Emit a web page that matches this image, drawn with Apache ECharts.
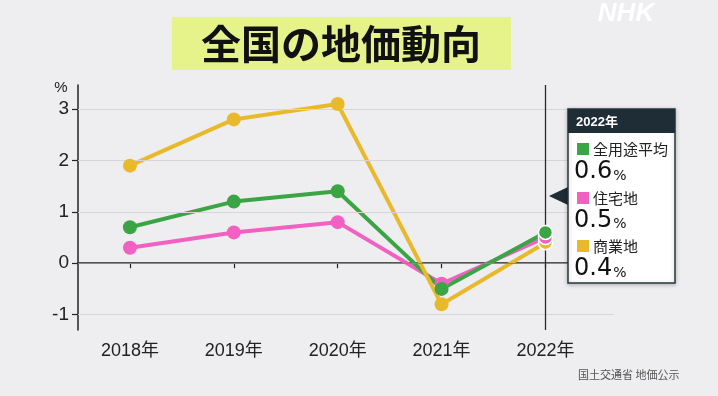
<!DOCTYPE html>
<html>
<head>
<meta charset="utf-8">
<script src="https://cdn.jsdelivr.net/npm/echarts@6/dist/echarts.min.js"></script>
<style>
html,body{margin:0;padding:0;background:#eeeef0;}
#chart{width:718px;height:396px;}
</style>
</head>
<body>
<div id="chart"></div>
<script>
// ---- data ----
const titleText = '全国の地価動向';
const years = [2018, 2019, 2020, 2021, 2022];
const yearLabelSuffix = '年';
const seriesNames = ['全用途平均', '住宅地', '商業地'];
const allUse = [0.7, 1.2, 1.4, -0.5, 0.6];
const residential = [0.3, 0.6, 0.8, -0.4, 0.5];
const commercial = [1.9, 2.8, 3.1, -0.8, 0.4];
const yTicks = [-1, 0, 1, 2, 3];
const yUnit = '%';
const highlightYear = 2022;
const sourceText = '国土交通省 地価公示';
const logoText = 'NHK';

// ---- styles ----
const colors = { green: '#3ba444', pink: '#f061c1', yellow: '#e9b92c' };
const font = '"Liberation Sans", "Noto Sans CJK JP", sans-serif';
const numFont = '"DejaVu Sans", sans-serif';
const cjkFont = '"Noto Sans CJK JP", sans-serif';

const chart = echarts.init(document.getElementById('chart'), null, { renderer: 'canvas' });

const toPairs = vals => years.map((y, i) => [y, vals[i]]);
const lastIdx = years.indexOf(highlightYear);
const markerData = vals => years.map((y, i) => {
  const d = { value: [y, vals[i]] };
  if (i === lastIdx) d.itemStyle = { borderColor: '#ffffff', borderWidth: 1.5 };
  return d;
});

const lineSeries = (name, vals, color, extra) => Object.assign({
  type: 'line', name: name, data: toPairs(vals), symbol: 'none',
  lineStyle: { color: color, width: 4 }, z: 2, silent: true
}, extra || {});
const dotSeries = (name, vals, color) => ({
  type: 'scatter', name: name, data: markerData(vals), symbolSize: 14,
  itemStyle: { color: color, opacity: 1 }, z: 5, silent: true
});

// tooltip-like box content
const boxX = 568, boxY = 109, boxW = 107, boxH = 174;
const entries = [
  { name: seriesNames[0], val: allUse[lastIdx], color: colors.green, sq: 143, lab: 149, num: 172 },
  { name: seriesNames[1], val: residential[lastIdx], color: colors.pink, sq: 192, lab: 198, num: 220.5 },
  { name: seriesNames[2], val: commercial[lastIdx], color: colors.yellow, sq: 240, lab: 246, num: 269 }
];
const boxGraphics = [
  { type: 'polygon', shape: { points: [[boxX, 187], [549, 196], [boxX, 205]] }, style: { fill: '#1f2d36' }, z: 20 },
  { type: 'rect', shape: { x: boxX, y: boxY, width: boxW, height: boxH }, style: { fill: '#ffffff', stroke: '#2a363d', lineWidth: 1.5, shadowBlur: 4, shadowColor: 'rgba(0,0,0,0.25)', shadowOffsetY: 1 }, z: 20 },
  { type: 'rect', shape: { x: boxX, y: boxY, width: boxW, height: 24 }, style: { fill: '#1f2d36' }, z: 21 },
  { type: 'text', x: 576, y: 122, style: { text: highlightYear + yearLabelSuffix, fill: '#ffffff', font: 'bold 13px ' + font, verticalAlign: 'middle' }, z: 22 }
];
entries.forEach(e => {
  boxGraphics.push({ type: 'rect', shape: { x: 577, y: e.sq, width: 12, height: 12 }, style: { fill: e.color }, z: 22 });
  boxGraphics.push({ type: 'text', x: 593, y: e.lab, style: { text: e.name, fill: '#222', font: '15px ' + cjkFont, verticalAlign: 'middle' }, z: 22 });
  boxGraphics.push({ type: 'text', x: 574, y: e.num, style: {
    text: '{n|' + e.val.toFixed(1) + '}{u|' + yUnit + '}',
    rich: { n: { font: '24px ' + numFont, fill: '#111', verticalAlign: 'bottom' }, u: { font: '14px ' + numFont, fill: '#111', verticalAlign: 'bottom', padding: [0, 0, 1, 1] } },
    verticalAlign: 'middle'
  }, z: 22 });
});

const option = {
  backgroundColor: '#eeeef0',
  animation: false,
  grid: { left: 78, right: 104, top: 85, bottom: 66, containLabel: false },
  xAxis: {
    type: 'value', min: 2017.5, max: 2022.66,
    axisLine: { show: true, lineStyle: { color: '#222', width: 1.5 } },
    axisTick: { show: true, length: 5, customValues: years, lineStyle: { color: '#222', width: 1.2 } },
    axisLabel: { customValues: years, formatter: v => v + yearLabelSuffix, margin: 12, color: '#222', fontSize: 18, fontFamily: font },
    splitLine: { show: false }
  },
  yAxis: {
    type: 'value', min: -1.3, max: 3.47,
    axisLine: { show: true, lineStyle: { color: '#222', width: 1.5 } },
    axisTick: { show: true, length: 6, customValues: yTicks, lineStyle: { color: '#222', width: 1.2 } },
    axisLabel: { customValues: yTicks, margin: 9, color: '#222', fontSize: 19, fontFamily: font },
    splitLine: { show: false }
  },
  series: [
    lineSeries(seriesNames[1], residential, colors.pink, {
      markLine: {
        silent: true, symbol: 'none', label: { show: false },
        data: yTicks.map(v => ({ yAxis: v, lineStyle: { color: v === 0 ? '#8a8a8e' : '#d6d6da', width: 1.2, type: 'solid' } }))
      },
      z: 1
    }),
    lineSeries(seriesNames[0], allUse, colors.green),
    lineSeries(seriesNames[2], commercial, colors.yellow, {
      markLine: {
        silent: true, symbol: 'none', label: { show: false },
        data: [{ xAxis: highlightYear, lineStyle: { color: '#2a2a2a', width: 1.3, type: 'solid' } }]
      }
    }),
    dotSeries(seriesNames[2], commercial, colors.yellow),
    dotSeries(seriesNames[1], residential, colors.pink),
    dotSeries(seriesNames[0], allUse, colors.green)
  ],
  graphic: [
    { type: 'rect', shape: { x: 172, y: 17, width: 339, height: 53 }, style: { fill: '#e6f38b' }, z: 10 },
    { type: 'text', x: 341, y: 44, style: { text: titleText, fill: '#111', font: 'bold 40px ' + cjkFont, align: 'center', verticalAlign: 'middle' }, z: 11 },
    { type: 'text', x: 626, y: 14, style: { text: logoText, fill: 'rgba(255,255,255,0.95)', font: 'italic 900 26px ' + font, align: 'center', verticalAlign: 'middle', shadowBlur: 2, shadowColor: 'rgba(0,0,0,0.12)' }, z: 11 },
    { type: 'text', x: 61, y: 88, style: { text: yUnit, fill: '#222', font: '15px ' + font, align: 'center', verticalAlign: 'middle' }, z: 11 },
    { type: 'text', x: 578, y: 375, style: { text: sourceText, fill: '#555', font: '11px ' + cjkFont, verticalAlign: 'middle' }, z: 11 }
  ].concat(boxGraphics)
};
chart.setOption(option);
</script>
</body>
</html>
